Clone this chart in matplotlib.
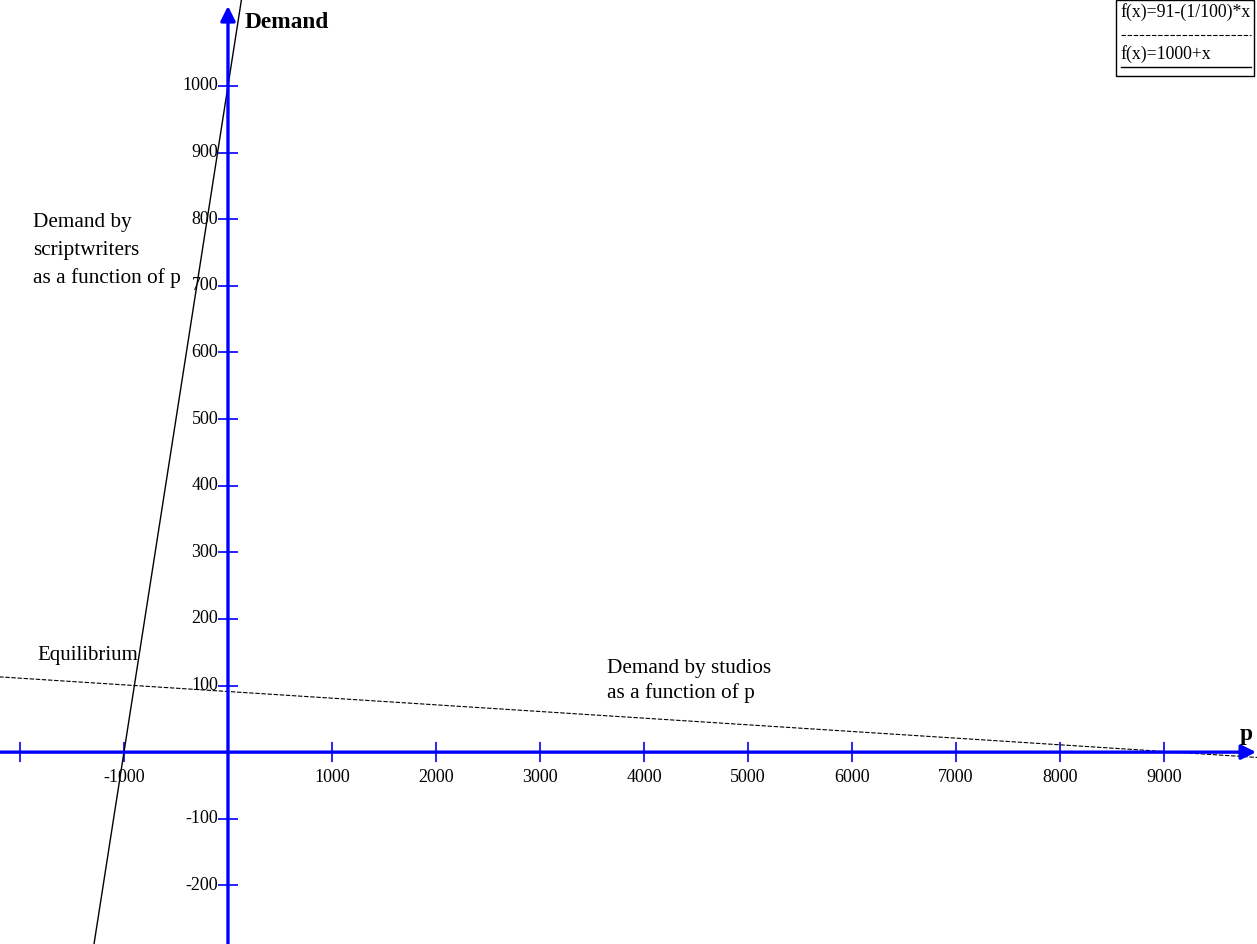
import matplotlib.pyplot as plt
from matplotlib.patches import Rectangle
from matplotlib.lines import Line2D

plt.rcParams['font.family'] = ['Liberation Serif', 'DejaVu Serif']

# endpoints
studio_p = [-2200, 9900]
studio_d = [113, -8]          # f(x)=91-(1/100)*x
writer_p = [-1290, 130]
writer_d = [-290, 1130]       # f(x)=1000+x

xticks = [-2000, -1000, 1000, 2000, 3000, 4000, 5000, 6000, 7000, 8000, 9000]
xlabels = ['', '-1000', '1000', '2000', '3000', '4000', '5000', '6000', '7000', '8000', '9000']
yticks = [-200, -100, 100, 200, 300, 400, 500, 600, 700, 800, 900, 1000]

fig = plt.figure(figsize=(12.57, 9.44), dpi=100)
ax = fig.add_axes([0, 0, 1, 1])
ax.set_xlim(-2192, 9894)
ax.set_ylim(-288, 1129)
ax.axis('off')

blue = '#0000ff'
# axes with arrows
ax.annotate('', xy=(9885, 0), xytext=(-2192, 0), annotation_clip=False,
            arrowprops=dict(arrowstyle='-|>', color=blue, lw=2.4, mutation_scale=22, shrinkA=0, shrinkB=0))
ax.annotate('', xy=(0, 1120), xytext=(0, -288), annotation_clip=False,
            arrowprops=dict(arrowstyle='-|>', color=blue, lw=2.4, mutation_scale=22, shrinkA=0, shrinkB=0))

# ticks
ax.plot(xticks, [0] * len(xticks), ls='none', marker='|', ms=15, mew=1.2, color=blue)
ax.plot([0] * len(yticks), yticks, ls='none', marker='_', ms=15, mew=1.2, color=blue)
for x, lab in zip(xticks, xlabels):
    ax.annotate(lab, (x, 0), xytext=(0, -12), textcoords='offset points',
                ha='center', va='top', fontsize=13)
for y in yticks:
    ax.annotate(str(y), (0, y), xytext=(-7, 0), textcoords='offset points',
                ha='right', va='center', fontsize=13)

# demand curves
ax.plot(studio_p, studio_d, color='black', lw=0.8, ls=(0, (4, 1.5)))
ax.plot(writer_p, writer_d, color='black', lw=1.0)

# labels
ax.text(160, 1095, 'Demand', fontsize=16.8, fontweight='bold', ha='left', va='center')
ax.text(9788, 26, 'p', fontsize=16.8, fontweight='bold', ha='center', va='center')
ax.text(-1837, 145, 'Equilibrium', fontsize=15, ha='left', va='center')
ax.text(-1875, 809, 'Demand by\nscriptwriters\nas a function of p', fontsize=15.3,
        ha='left', va='top', linespacing=1.6)
ax.text(3640, 140, 'Demand by studios\nas a function of p', fontsize=15.3,
        ha='left', va='top', linespacing=1.35)

# legend box
ax.add_patch(Rectangle((0.888, 0.9195), 0.1095, 0.08, transform=ax.transAxes,
                       fill=False, ec='black', lw=1.0))
ax.text(0.8915, 0.987, 'f(x)=91-(1/100)*x', transform=ax.transAxes,
        fontsize=12.8, ha='left', va='center')
ax.add_line(Line2D([0.8915, 0.9955], [0.9625, 0.9625], transform=ax.transAxes,
                   color='black', lw=0.8, ls=(0, (4, 1.5))))
ax.text(0.8915, 0.943, 'f(x)=1000+x', transform=ax.transAxes,
        fontsize=12.8, ha='left', va='center')
ax.add_line(Line2D([0.8915, 0.9955], [0.9295, 0.9295], transform=ax.transAxes,
                   color='black', lw=1.0))

fig.savefig('out.png', dpi=100)
